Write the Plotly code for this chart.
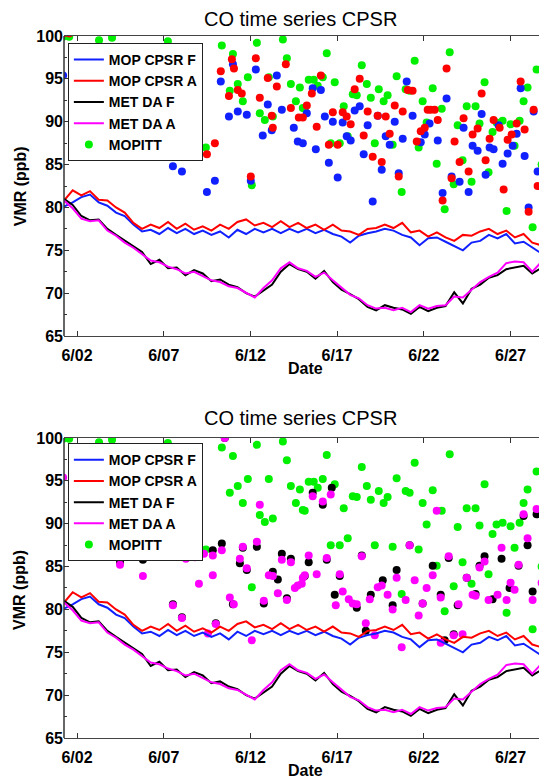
import plotly.graph_objects as go

# ---------------- data ----------------
# model time series (12-hourly, day of June)
line_days = [1.25 + 0.5 * i for i in range(57)]
mop_cpsr_f = [80.1, 80.6, 81.2, 81.5, 80.6, 80.2, 79.4, 79.0, 78.0, 77.2,
              77.4, 76.9, 77.6, 77.0, 77.5, 76.9, 77.3, 76.8, 77.2, 76.5,
              77.4, 76.9, 77.5, 77.1, 77.5, 77.0, 77.5, 77.1, 77.5, 77.0,
              77.4, 76.9, 76.6, 75.9, 76.7, 77.0, 77.2, 77.5, 77.3, 76.8,
              76.5, 75.6, 76.4, 76.5, 76.0, 75.5, 75.0, 75.9, 76.1, 76.8,
              76.4, 76.9, 75.8, 76.0, 75.3, 74.7, 74.0]
mop_cpsr_a = [80.8, 82.0, 81.4, 81.9, 80.9, 80.8, 80.0, 79.4, 78.2, 77.5,
              78.0, 77.6, 78.3, 77.5, 78.1, 77.4, 77.8, 77.3, 78.0, 77.5,
              78.3, 78.6, 77.9, 78.2, 77.7, 78.4, 77.7, 78.2, 77.6, 78.0,
              77.4, 78.0, 77.3, 77.2, 76.8, 77.5, 77.6, 78.0, 77.6, 78.2,
              77.1, 77.3, 76.6, 77.1, 76.5, 76.1, 76.8, 76.7, 77.2, 77.5,
              76.9, 77.3, 76.5, 76.9, 75.9, 75.6, 74.3]
met_da_f = [81.0, 80.3, 79.0, 78.5, 78.6, 77.5, 76.8, 76.1, 75.4, 74.8,
            73.4, 73.9, 72.9, 73.0, 72.1, 72.7, 72.3, 71.4, 71.6, 71.0,
            70.7, 70.0, 69.6, 70.3, 71.0, 72.5, 73.4, 72.8, 72.5, 71.7,
            72.6, 71.3, 70.4, 69.9, 69.3, 68.4, 68.0, 68.6, 68.3, 68.1,
            67.6, 68.4, 67.9, 68.3, 68.5, 70.1, 68.8, 70.5, 71.0, 71.8,
            72.1, 72.8, 73.0, 73.2, 72.3, 72.9, 73.5]
met_da_a = [80.8, 79.9, 78.7, 78.4, 78.5, 77.3, 76.7, 75.9, 75.3, 74.6,
            73.8, 73.6, 73.1, 72.8, 72.3, 72.5, 72.0, 71.5, 71.3, 70.8,
            70.6, 70.0, 69.5, 70.6, 71.5, 72.9, 73.6, 72.9, 72.6, 71.9,
            72.4, 71.5, 70.6, 69.8, 69.4, 68.6, 68.2, 68.3, 68.0, 68.3,
            67.8, 68.6, 68.2, 68.5, 68.6, 69.6, 69.5, 70.4, 71.3, 71.9,
            72.4, 73.5, 73.7, 73.6, 72.5, 73.6, 74.5]

# MOPITT retrievals
mopitt_days = [1.20, 1.55, 3.27, 4.02, 7.24, 10.35, 10.99, 12.37, 13.87, 14.10,
               10.81, 11.27, 11.85, 13.06, 11.56, 12.54, 12.83, 13.29, 14.33, 14.85,
               14.62, 15.02, 7.53, 9.43, 12.08, 16.40, 18.42, 21.47, 23.49, 28.50,
               15.13, 15.36, 15.65, 16.17, 16.86, 15.88, 17.38, 17.90, 18.13, 18.71,
               18.94, 19.40, 19.68, 19.91, 20.43, 20.95, 21.18, 21.93, 22.51, 22.16,
               23.03, 23.95, 24.47, 24.98, 25.50, 25.21, 25.96, 26.19, 26.54, 27.00,
               27.52, 27.75, 27.98, 27.23, 28.96, 28.79, 16.63, 17.15, 17.61, 19.17,
               20.20, 21.70, 22.74, 24.23, 23.72, 24.75, 25.73, 23.20, 26.77, 28.27,
               20.72]
mopitt_vals = [99.9, 99.9, 99.5, 99.8, 99.4, 98.9, 97.9, 99.2, 99.6, 97.4,
               93.6, 94.4, 95.2, 95.2, 92.4, 91.0, 90.2, 90.6, 94.4, 94.0,
               92.4, 91.6, 87.0, 87.0, 82.6, 98.0, 96.6, 97.1, 98.1, 96.1,
               91.5, 94.9, 94.9, 95.2, 94.6, 94.2, 91.8, 93.2, 93.1, 94.4,
               92.8, 93.8, 92.4, 93.1, 95.3, 93.8, 93.6, 92.4, 93.9, 89.9,
               91.5, 89.6, 91.8, 91.8, 94.6, 89.8, 88.8, 89.9, 90.1, 89.7,
               90.1, 92.4, 94.0, 87.2, 87.7, 85.0, 87.5, 87.5, 88.3, 87.5,
               87.3, 87.0, 85.1, 85.5, 82.7, 83.0, 84.1, 79.8, 79.6, 77.7,
               81.8]

# MOP CPSR forecast / analysis sampled at MOPITT locations
mopf_days = [1.20, 10.99, 10.29, 10.76, 11.27, 11.79, 12.31, 13.00, 13.52, 13.81,
             14.50, 12.71, 13.23, 14.73, 7.53, 8.05, 9.95, 9.49, 12.02, 15.59,
             16.06, 15.25, 16.29, 15.02, 15.77, 16.52, 17.03, 16.75, 17.32, 17.55,
             17.78, 18.01, 18.30, 18.76, 18.53, 19.05, 19.34, 19.57, 19.80, 20.03,
             20.32, 20.55, 20.78, 21.01, 21.35, 21.82, 22.05, 22.33, 22.80, 23.08,
             23.31, 23.60, 24.06, 24.29, 24.58, 24.81, 25.10, 25.33, 25.56, 25.79,
             26.02, 26.31, 26.54, 26.83, 27.12, 27.35, 27.58, 27.81, 28.33, 28.56,
             28.04, 28.90, 28.96]
mopf_vals = [95.4, 96.7, 94.7, 90.6, 91.2, 90.8, 96.1, 92.0, 95.4, 91.4,
             89.3, 88.4, 89.0, 87.7, 84.8, 84.2, 83.1, 81.8, 83.1, 93.9,
             93.7, 91.0, 90.6, 87.5, 86.8, 85.2, 83.5, 90.0, 89.9, 88.3,
             87.8, 91.3, 91.8, 89.6, 86.2, 80.7, 90.7, 84.4, 88.3, 87.3,
             90.0, 84.0, 88.0, 94.7, 90.7, 87.6, 88.5, 89.8, 87.8, 81.7,
             92.7, 83.6, 83.0, 89.3, 81.8, 87.2, 86.6, 90.9, 83.8, 87.0,
             86.8, 89.6, 85.1, 86.3, 87.2, 88.6, 93.9, 86.0, 91.2, 84.2,
             80.0, 87.8, 85.7]
mopa_days = [1.20, 1.55, 10.93, 11.05, 10.29, 10.76, 11.27, 11.50, 12.31, 12.54,
             13.00, 13.52, 14.04, 14.33, 13.29, 13.23, 14.79, 7.53, 8.05, 9.49,
             9.95, 12.02, 16.06, 15.54, 15.25, 15.02, 15.82, 16.52, 17.03, 16.75,
             17.32, 17.55, 17.78, 18.01, 18.30, 18.76, 18.53, 19.05, 19.34, 19.57,
             19.80, 20.03, 20.32, 20.55, 20.78, 21.07, 21.35, 21.59, 21.82, 22.05,
             22.22, 22.39, 22.62, 22.80, 23.08, 23.31, 23.60, 23.77, 24.06, 24.29,
             24.58, 24.81, 25.10, 25.33, 25.56, 25.79, 26.02, 26.37, 26.60, 26.83,
             27.06, 27.35, 27.58, 27.81, 28.33, 28.56, 28.04, 28.90, 28.96]
mopa_vals = [100.3, 100.3, 97.3, 96.2, 95.9, 93.0, 93.7, 93.3, 97.4, 92.8,
             95.1, 94.1, 96.7, 91.6, 89.3, 90.7, 90.5, 86.4, 87.2, 86.2,
             87.5, 83.6, 95.4, 93.3, 91.9, 90.5, 89.4, 87.3, 87.3, 91.1,
             91.1, 90.6, 89.7, 93.8, 95.0, 91.2, 88.4, 85.9, 90.7, 85.3,
             90.6, 88.6, 91.9, 83.6, 91.2, 93.7, 93.6, 87.7, 88.9, 89.3,
             91.4, 91.4, 91.4, 90.2, 80.8, 96.2, 83.4, 87.7, 85.3, 90.4,
             84.2, 88.5, 89.2, 93.3, 85.5, 88.0, 90.2, 89.3, 82.1, 87.9,
             88.5, 89.8, 94.7, 89.1, 91.4, 82.5, 79.5, 88.1, 86.4]

# MET DA forecast / analysis sampled at MOPITT locations
metf_days = [10.52, 9.83, 10.35, 12.37, 11.56, 5.80, 4.48, 13.81, 14.33, 11.39,
             11.79, 13.29, 13.58, 14.10, 7.53, 10.99, 12.77, 8.05, 10.00, 16.69,
             15.59, 16.17, 21.18, 18.42, 15.36, 16.40, 15.13, 17.15, 16.86, 18.13,
             18.94, 19.63, 20.20, 20.43, 21.93, 22.51, 22.97, 23.43, 23.95, 24.47,
             24.98, 25.50, 25.21, 25.96, 26.48, 26.94, 27.46, 27.75, 27.98, 28.27,
             28.50, 28.90, 18.65, 23.72, 23.20]
metf_vals = [100.0, 86.9, 87.7, 87.3, 87.2, 85.8, 85.5, 86.5, 85.9, 85.4,
             84.6, 84.4, 83.5, 81.3, 80.6, 80.6, 80.7, 79.1, 78.4, 94.2,
             93.6, 92.2, 87.5, 86.3, 85.5, 85.8, 83.9, 83.9, 81.7, 80.2,
             81.7, 83.4, 80.5, 84.6, 80.7, 85.1, 81.7, 86.0, 80.5, 83.7,
             81.8, 86.2, 85.1, 81.2, 85.9, 82.5, 85.1, 90.9, 87.5, 82.1,
             91.1, 83.7, 77.5, 77.1, 76.4]
meta_days = [1.20, 10.52, 12.54, 9.83, 10.35, 12.37, 11.56, 8.28, 5.00, 4.48,
             5.80, 8.80, 9.32, 9.83, 13.81, 14.33, 11.39, 11.79, 13.06, 13.29,
             15.02, 14.73, 14.56, 13.58, 14.10, 7.53, 10.81, 11.04, 12.77, 8.05,
             10.00, 9.03, 9.55, 12.08, 16.63, 15.59, 16.17, 22.74, 21.18, 18.42,
             15.36, 16.40, 15.82, 15.13, 14.96, 17.15, 16.92, 17.32, 17.67, 17.90,
             18.13, 18.88, 19.57, 19.34, 20.20, 19.91, 20.43, 20.95, 21.47, 21.93,
             21.70, 22.51, 22.16, 22.97, 23.43, 24.00, 24.47, 24.81, 24.98, 25.50,
             25.21, 25.73, 26.25, 26.77, 26.48, 27.00, 27.23, 27.46, 27.75, 27.98,
             28.27, 28.50, 28.79, 18.65, 19.17, 24.23, 20.72, 22.97, 23.72]
meta_vals = [95.4, 100.0, 92.2, 86.3, 86.9, 87.9, 87.3, 85.9, 86.8, 85.2,
             83.9, 86.1, 86.5, 84.0, 85.8, 85.5, 85.9, 84.8, 84.0, 83.9,
             83.7, 82.8, 82.5, 81.9, 81.1, 80.5, 81.4, 80.6, 81.0, 79.0,
             78.3, 83.0, 77.2, 76.4, 93.4, 93.2, 92.6, 91.5, 87.5, 86.2,
             86.3, 86.0, 84.1, 84.0, 83.0, 84.1, 80.5, 82.1, 81.2, 80.7,
             80.6, 81.2, 82.8, 82.6, 80.0, 81.7, 83.7, 81.1, 83.4, 80.7,
             79.3, 84.0, 82.5, 81.4, 86.2, 80.6, 83.7, 81.7, 81.6, 85.6,
             84.9, 81.1, 81.7, 81.1, 87.2, 83.1, 82.3, 85.2, 91.1, 88.3,
             81.1, 91.7, 83.1, 78.4, 77.0, 77.1, 75.6, 76.1, 77.0]

tick_days = [2, 7, 12, 17, 22, 27]
tick_labels = ["6/02", "6/07", "6/12", "6/17", "6/22", "6/27"]
title_text = "CO time series CPSR"

# ---------------- figure ----------------
FONT = "Liberation Sans, Arial, sans-serif"
fig = go.Figure()

line_specs = [("MOP CPSR F", mop_cpsr_f, "#1020ff", 1),
              ("MOP CPSR A", mop_cpsr_a, "#ff0000", 2),
              ("MET DA F", met_da_f, "#000000", 3),
              ("MET DA A", met_da_a, "#ff00ff", 4)]


def add_panel(xa, ya, legend, dot_sets):
    fig.add_trace(go.Scatter(x=mopitt_days, y=mopitt_vals, mode="markers",
                             name="MOPITT", legendrank=5, legend=legend,
                             marker=dict(color="#00f000", size=8),
                             xaxis=xa, yaxis=ya))
    for d, v, c in dot_sets:
        fig.add_trace(go.Scatter(x=d, y=v, mode="markers", showlegend=False,
                                 marker=dict(color=c, size=8),
                                 xaxis=xa, yaxis=ya))
    for name, vals, color, rank in line_specs:
        fig.add_trace(go.Scatter(x=line_days, y=vals, mode="lines", name=name,
                                 legendrank=rank, legend=legend,
                                 line=dict(color=color, width=2),
                                 xaxis=xa, yaxis=ya))


add_panel("x", "y", "legend", [(mopf_days, mopf_vals, "#1020ff"),
                               (mopa_days, mopa_vals, "#ff0000")])
add_panel("x2", "y2", "legend2", [(metf_days, metf_vals, "#000000"),
                                  (meta_days, meta_vals, "#ff00ff")])

axis_common = dict(showgrid=False, zeroline=False, ticks="inside", ticklen=5,
                   tickcolor="#333", automargin=False,
                   tickfont=dict(family=FONT, size=16, color="#000", weight="bold"))
xaxis_cfg = dict(axis_common, range=[1.25, 29.1], tickvals=tick_days,
                 ticktext=tick_labels, showline=True, linecolor="#444",
                 linewidth=1, mirror="ticks", ticklabelstandoff=5)
yaxis_cfg = dict(axis_common, range=[65, 100], tickvals=[65, 70, 75, 80, 85, 90, 95, 100],
                 showline=False,
                 minor=dict(dtick=2.5, ticks="inside", ticklen=3, tickcolor="#333"))

top_dom = [0.5726, 1.0]
bot_dom = [0.0, 0.4274]

legend_cfg = dict(bgcolor="white", bordercolor="#222", borderwidth=1,
                  font=dict(family=FONT, size=14, color="#000", weight="bold"),
                  xref="paper", yref="paper", xanchor="left", yanchor="top",
                  itemsizing="trace", traceorder="normal", tracegroupgap=0)

# the page body adds an 8 px offset, so the figure is sized to fit the window
fig.update_layout(
    width=539, height=772,
    margin=dict(l=56, r=0, t=28, b=42, autoexpand=False),
    paper_bgcolor="white", plot_bgcolor="white",
    xaxis=dict(xaxis_cfg, domain=[0, 1], anchor="y"),
    yaxis=dict(yaxis_cfg, domain=top_dom, anchor="x"),
    xaxis2=dict(xaxis_cfg, domain=[0, 1], anchor="y2"),
    yaxis2=dict(yaxis_cfg, domain=bot_dom, anchor="x2"),
    legend=dict(legend_cfg, x=0.008, y=0.990),
    legend2=dict(legend_cfg, x=0.008, y=0.420),
)

# left frame lines
for dom in (top_dom, bot_dom):
    fig.add_shape(type="line", xref="paper", yref="paper", x0=0, x1=0,
                  y0=dom[0], y1=dom[1], line=dict(color="#333", width=1.5))

ann_font = dict(family=FONT, size=16, color="#000", weight="bold")
annotations = [
    dict(text=title_text, x=0.49, y=1.0242, font=dict(family=FONT, size=20, color="#000")),
    dict(text=title_text, x=0.49, y=0.4558, font=dict(family=FONT, size=20, color="#000")),
    dict(text="Date", x=0.499, y=0.527, font=ann_font),
    dict(text="Date", x=0.499, y=-0.047, font=ann_font),
    dict(text="VMR (ppb)", x=-0.091, y=0.786, textangle=-90, font=ann_font),
    dict(text="VMR (ppb)", x=-0.091, y=0.211, textangle=-90, font=ann_font),
]
for a in annotations:
    fig.add_annotation(xref="paper", yref="paper", showarrow=False,
                       xanchor="center", yanchor="middle", **a)

fig.write_html("out.html")
